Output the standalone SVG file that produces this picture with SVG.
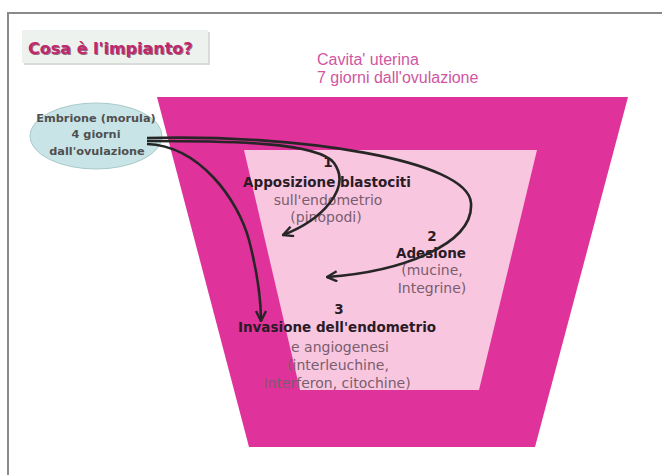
<svg xmlns="http://www.w3.org/2000/svg" width="662" height="475" viewBox="0 0 662 475">
<defs>
<style>
.lbl{font-family:"DejaVu Sans",sans-serif;font-size:13.5px;font-weight:bold;fill:#2a1c26;text-anchor:middle}
.sub{font-family:"DejaVu Sans",sans-serif;font-size:14px;fill:#7a5d6e;text-anchor:middle}
.arr{fill:none;stroke:#262626;stroke-width:2.6;marker-end:url(#ah)}
.emb{font-family:"DejaVu Sans",sans-serif;font-size:11.3px;fill:#505050;text-anchor:middle;font-weight:bold}
.cav{font-family:"Liberation Sans",Arial,sans-serif;font-size:16px;fill:#d056a2}
</style>
<marker id="ah" viewBox="0 0 12 12" refX="11" refY="6" markerWidth="12" markerHeight="12" markerUnits="userSpaceOnUse" orient="auto">
<path d="M1,1 L11,6 L1,11" fill="none" stroke="#262626" stroke-width="2.4"/>
</marker>
</defs>
<rect width="662" height="475" fill="#ffffff"/>
<path d="M8,475 L8,13 L662,13" fill="none" stroke="#8a8a8a" stroke-width="2"/>
<g id="title">
<rect x="24" y="32" width="186" height="33" fill="#d8dcd8"/>
<rect x="22" y="30" width="186" height="33" fill="#eef2ee"/>
<text x="29" y="55" font-family="'DejaVu Sans',sans-serif" font-size="16" font-weight="bold" fill="#5a1030" opacity="0.6">Cosa è l'impianto?</text>
<text x="28" y="54" font-family="'DejaVu Sans',sans-serif" font-size="16" font-weight="bold" fill="#c0286e">Cosa è l'impianto?</text>
</g>
<g id="uterus">
<polygon points="157,97 628,97 535,447 249,447" fill="#e0329b"/>
<polygon points="244,150 537,150 479,390 300,390" fill="#f8c6df"/>
</g>
<g id="cavity-label">
<text class="cav" x="317" y="65">Cavita' uterina</text>
<text class="cav" x="317" y="83">7 giorni dall'ovulazione</text>
</g>
<g id="embrione">
<ellipse cx="96" cy="136" rx="66" ry="33" fill="#c8e4e6" stroke="#a9c9cc" stroke-width="1"/>
<text class="emb" x="96" y="122">Embrione (morula)</text>
<text class="emb" x="96" y="138">4 giorni</text>
<text class="emb" x="97" y="155">dall'ovulazione</text>
</g>
<g id="step1">
<text class="lbl" x="328" y="167">1</text>
<text class="lbl" x="327" y="187">Apposizione blastociti</text>
<text class="sub" x="328" y="205">sull'endometrio</text>
<text class="sub" x="326" y="222">(pinopodi)</text>
</g>
<g id="step2">
<text class="lbl" x="432" y="241">2</text>
<text class="lbl" x="431" y="258">Adesione</text>
<text class="sub" x="432" y="275">(mucine,</text>
<text class="sub" x="432" y="293">Integrine)</text>
</g>
<g id="step3">
<text class="lbl" x="339" y="314">3</text>
<text class="lbl" x="337" y="332">Invasione dell'endometrio</text>
<text class="sub" x="340" y="352">e angiogenesi</text>
<text class="sub" x="338" y="370">(interleuchine,</text>
<text class="sub" x="337" y="388">Interferon, citochine)</text>
</g>
<g id="connectors">
<path class="arr" d="M147,141 C230,141 318,142 334,163 C352,188 322,220 283,235"/>
<path class="arr" d="M147,138 C300,134 468,160 471,203 C474,245 400,272 327,277"/>
<path class="arr" d="M147,144 C200,146 238,200 249,240 C258,275 261,300 261,321"/>
</g>
</svg>
